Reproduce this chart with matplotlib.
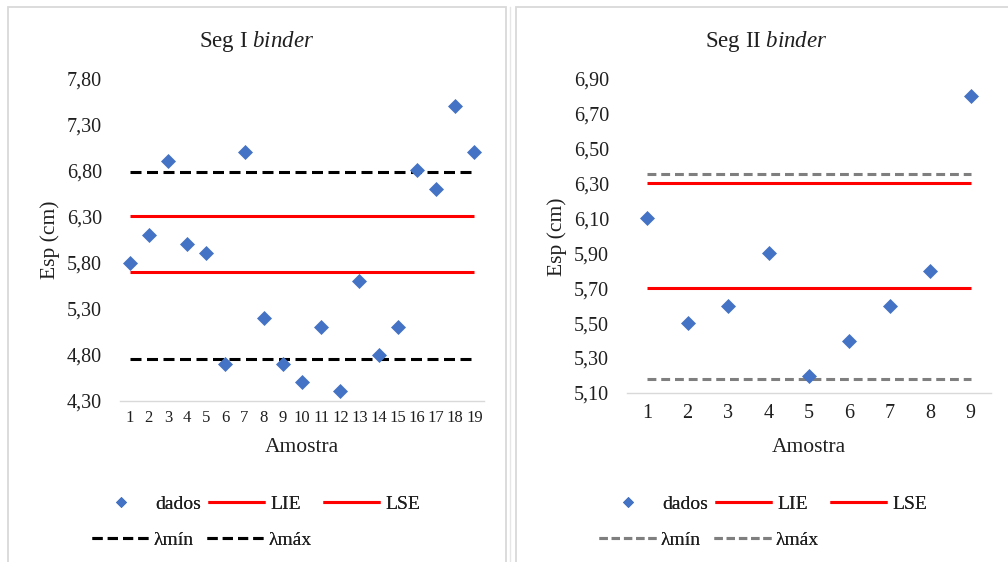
import matplotlib
matplotlib.use("Agg")
import matplotlib.pyplot as plt
from matplotlib.lines import Line2D
from matplotlib.patches import Rectangle
from matplotlib.ticker import FuncFormatter, FixedLocator

# ---- Seg I binder ----
amostra_1 = list(range(1, 20))
esp_1 = [5.8, 6.1, 6.9, 6.0, 5.9, 4.7, 7.0, 5.2, 4.7, 4.5,
         5.1, 4.4, 5.6, 4.8, 5.1, 6.8, 6.6, 7.5, 7.0]
lie_1, lse_1 = 5.7, 6.3
lmin_1, lmax_1 = 4.75, 6.78
yticks_1 = [4.30, 4.80, 5.30, 5.80, 6.30, 6.80, 7.30, 7.80]

# ---- Seg II binder ----
amostra_2 = list(range(1, 10))
esp_2 = [6.1, 5.5, 5.6, 5.9, 5.2, 5.4, 5.6, 5.8, 6.8]
lie_2, lse_2 = 5.7, 6.3
lmin_2, lmax_2 = 5.18, 6.35
yticks_2 = [5.10, 5.30, 5.50, 5.70, 5.90, 6.10, 6.30, 6.50, 6.70, 6.90]

titles = [r"Seg I $\mathit{binder}$", r"Seg II $\mathit{binder}$"]
xlabel = "Amostra"
ylabel = "Esp (cm)"
labels = ["dados", "LIE", "LSE", "λmín", "λmáx"]

plt.rcParams["font.family"] = ["Liberation Serif", "DejaVu Serif"]
plt.rcParams["mathtext.fontset"] = "custom"
plt.rcParams["mathtext.rm"] = "Liberation Serif"
plt.rcParams["mathtext.it"] = "Liberation Serif:italic"

W, H = 1008, 562
fig = plt.figure(figsize=(W / 100, H / 100), dpi=100)

TXT = "#1f1f1f"
BLUE = "#4472C4"
RED = "#FF0000"


def fx(px):
    return px / W


def fy(py):
    return 1 - py / H


# chart-area frames
for x0, x1 in [(8, 506), (516, 1030)]:
    fig.patches.append(Rectangle((fx(x0), fy(580)), fx(x1 - x0), (580 - 7) / H,
                                 transform=fig.transFigure, fill=False,
                                 edgecolor="#d9d9d9", lw=1.3))
fig.add_artist(Line2D([fx(510), fx(510)], [fy(7), fy(562)], color="#e6e6e6", lw=1.0))


def comma(v, _):
    return f"{v:.2f}".replace(".", ",")


def panel(rect, xs, ys, lie, lse, lmin, lmax, yticks, dash_color, dashes,
          xtick_size, xtick_pad):
    ax = fig.add_axes(rect)
    ax.plot(xs, [lie] * len(xs), color=RED, lw=2.2, solid_capstyle="butt")
    ax.plot(xs, [lse] * len(xs), color=RED, lw=2.2, solid_capstyle="butt")
    ax.plot(xs, [lmin] * len(xs), color=dash_color, lw=2.2, dashes=dashes,
            dash_capstyle="butt")
    ax.plot(xs, [lmax] * len(xs), color=dash_color, lw=2.2, dashes=dashes,
            dash_capstyle="butt")
    ax.plot(xs, ys, ls="none", marker="D", ms=7.2, mfc=BLUE, mec=BLUE, mew=0.5,
            clip_on=False, zorder=5)
    ax.set_xlim(0.5, len(xs) + 0.5)
    ax.set_ylim(yticks[0], yticks[-1])
    ax.xaxis.set_major_locator(FixedLocator(xs))
    ax.yaxis.set_major_locator(FixedLocator(yticks))
    ax.yaxis.set_major_formatter(FuncFormatter(comma))
    for s in ["top", "right", "left"]:
        ax.spines[s].set_visible(False)
    ax.spines["bottom"].set_color("#d9d9d9")
    ax.spines["bottom"].set_linewidth(1.0)
    ax.tick_params(axis="y", length=0, pad=13, labelsize=14.5, labelcolor=TXT)
    ax.tick_params(axis="x", length=0, pad=xtick_pad, labelsize=xtick_size,
                   labelcolor=TXT)
    ax.set_facecolor("none")
    return ax


panel([fx(120), fy(400.7), fx(364), 322.4 / H], amostra_1, esp_1, lie_1, lse_1,
      lmin_1, lmax_1, yticks_1, "black", (3.6, 1.8), 12, 7)
panel([fx(627), fy(393), fx(364), 314.7 / H], amostra_2, esp_2, lie_2, lse_2,
      lmin_2, lmax_2, yticks_2, "#7f7f7f", (2.9, 1.6), 14.5, 8)

# titles, axis titles
for cx, t in [(257, titles[0]), (766, titles[1])]:
    fig.text(fx(cx), fy(46.5), t, ha="center", va="baseline", fontsize=16.5, color=TXT)
for cx in (302, 809):
    fig.text(fx(cx), fy(452.5), xlabel, ha="center", va="baseline", fontsize=15.5, color=TXT)
for cx, cy in [(50, 240), (557, 237)]:
    fig.text(fx(cx), fy(cy), ylabel, ha="center", va="center", rotation=90,
             fontsize=15.5, color=TXT)


# legends: one entry at a time
def entry(handle, label, x_px, y_px):
    leg = fig.legend([handle], [label], loc="center left",
                     bbox_to_anchor=(fx(x_px), fy(y_px)), frameon=False,
                     borderpad=0, borderaxespad=0, handlelength=2.93,
                     handletextpad=0.27, fontsize=14, labelcolor=TXT,
                     numpoints=1)
    fig.add_artist(leg)


for off, dcol, dsh in [(0, "black", (3.3, 1.7)), (507, "#7f7f7f", (2.7, 1.3))]:
    h_dados = Line2D([], [], ls="none", marker="D", ms=5.6, mfc=BLUE, mec=BLUE, mew=0.5)
    h_red = Line2D([], [], color=RED, lw=2.2, solid_capstyle="butt")
    h_dash = Line2D([], [], color=dcol, lw=2.2, dashes=dsh, dash_capstyle="butt")
    entry(h_dados, labels[0], 93 + off, 504)
    entry(h_red, labels[1], 207.7 + off, 504)
    entry(h_red, labels[2], 323 + off, 504)
    entry(h_dash, labels[3], 91.7 + off, 540)
    entry(h_dash, labels[4], 206.7 + off, 540)

fig.savefig("out.png", dpi=100, facecolor="white")
